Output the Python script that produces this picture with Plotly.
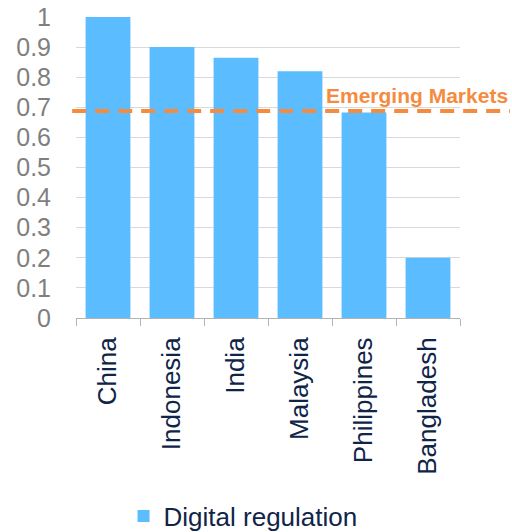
import plotly.graph_objects as go

# donnees
countries = ["China", "Indonesia", "India", "Malaysia", "Philippines", "Bangladesh"]
digital_regulation = [1.0, 0.9, 0.865, 0.82, 0.683, 0.2]
emerging_markets = 0.688
y_ticks = [0, 0.1, 0.2, 0.3, 0.4, 0.5, 0.6, 0.7, 0.8, 0.9, 1]
y_tick_labels = ["0", "0.1", "0.2", "0.3", "0.4", "0.5", "0.6", "0.7", "0.8", "0.9", "1"]

fig = go.Figure()

fig.add_trace(go.Bar(
    x=countries,
    y=digital_regulation,
    name="Digital regulation",
    marker=dict(color="#5BBDFF", line=dict(width=0)),
    width=0.7,
))

# ligne de reference Emerging Markets
fig.add_shape(
    type="line", xref="paper", yref="y",
    x0=-0.01, x1=1.13, y0=emerging_markets, y1=emerging_markets,
    line=dict(color="#F58B3F", width=4, dash="14px,9px"),
)
fig.add_annotation(
    text="<b>Emerging Markets</b>", xref="paper", yref="y",
    x=1.13, y=emerging_markets, xanchor="right", yanchor="bottom",
    showarrow=False, yshift=2,
    font=dict(color="#F58B3F", size=21, family="Liberation Sans, Arial"),
)

fig.update_layout(
    width=512, height=532,
    margin=dict(l=76, r=52, t=17, b=214),
    plot_bgcolor="white", paper_bgcolor="white",
    font=dict(family="Liberation Sans, Arial", color="#0F2548"),
    showlegend=True,
    legend=dict(
        orientation="h", x=0.435, xanchor="center",
        yref="container", y=0.03, yanchor="middle",
        font=dict(size=26, color="#0F2548"),
    ),
)

fig.update_xaxes(
    automargin=False,
    tickangle=-90, tickfont=dict(size=26, color="#0F2548"),
    tickson="boundaries", ticks="outside", ticklen=7, tickcolor="#B3B3B3",
    showline=True, linecolor="#B3B3B3", linewidth=1,
    showgrid=False, ticklabelstandoff=8,
)
fig.update_yaxes(
    automargin=False,
    range=[0, 1], tickvals=y_ticks, ticktext=y_tick_labels,
    tickfont=dict(size=25, color="#7F7F7F"),
    showgrid=True, gridcolor="#D9D9D9", gridwidth=1,
    zeroline=False, showline=False, ticks="", ticklabelstandoff=24,
)

# pas de marge autour de la page, pas de barre d'outils
fig.write_html(
    "out.html",
    config={"displayModeBar": False},
    post_script="document.body.style.margin='0';",
)
